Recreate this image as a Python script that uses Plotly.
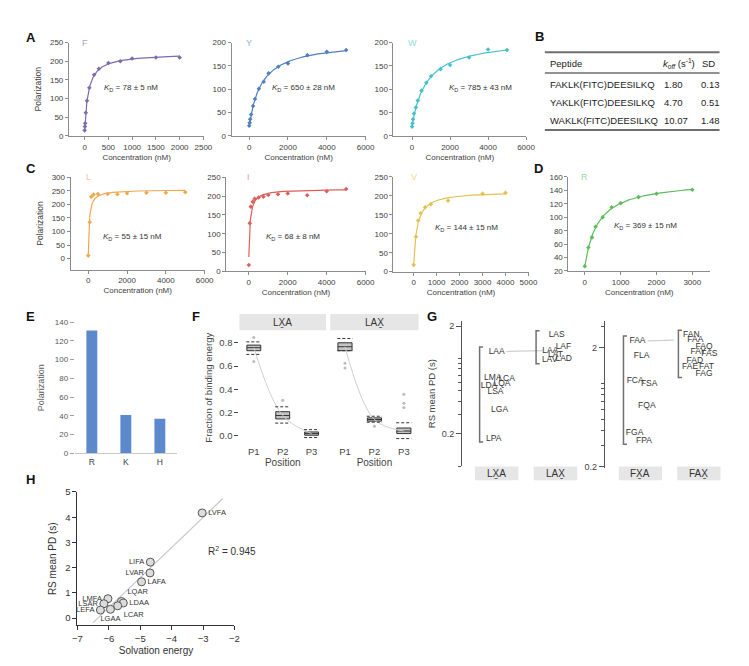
import numpy as np
import plotly.graph_objects as go

W, H = 749, 666
FONT = "Liberation Sans, Arial, sans-serif"

# ---------------- data ----------------
# Panels A, C, D: concentration (nM) vs polarization
F_conc = [0, 6.25, 12.5, 25, 50, 100, 200, 300, 500, 750, 1000, 1500, 2000]
F_pol = [15, 25, 34, 62, 94, 129, 164, 180, 195, 200, 207, 210, 210]
Y_conc = [0, 25, 50, 100, 200, 300, 500, 750, 1000, 1500, 2000, 3000, 4000, 5000]
Y_pol = [22, 28, 36, 46, 64, 79, 101, 116, 134, 148, 155, 173, 180, 184]
W_conc = [0, 25, 50, 100, 200, 300, 500, 750, 1000, 1500, 2000, 3000, 4000, 5000]
W_pol = [20, 27, 36, 48, 61, 76, 97, 114, 128, 143, 152, 168, 185, 184]
L_conc = [0, 75, 150, 275, 500, 1000, 1500, 2000, 3000, 4000, 5000]
L_pol = [11, 134, 228, 236, 238, 238, 237, 241, 243, 243, 245]
I_conc = [0, 50, 100, 200, 300, 500, 750, 1000, 1500, 2000, 3000, 4000, 5000]
I_pol = [17, 128, 172, 185, 193, 196, 198, 203, 205, 207, 202, 213, 219]
V_conc = [0, 100, 200, 300, 500, 750, 1500, 3000, 4000]
V_pol = [18, 92, 135, 154, 170, 178, 187, 206, 208]
R_conc = [0, 100, 200, 300, 500, 750, 1000, 1500, 2000, 3000]
R_pol = [27, 55, 70, 86, 100, 115, 121, 130, 135, 141]
kd_vals = {"F": 78, "Y": 650, "W": 785, "L": 55, "I": 68, "V": 144, "R": 369}
kd_err = {"F": 5, "Y": 28, "W": 43, "L": 15, "I": 8, "V": 15, "R": 15}

# Panel B table
B_peptides = ["FAKLK(FITC)DEESILKQ", "YAKLK(FITC)DEESILKQ", "WAKLK(FITC)DEESILKQ"]
B_koff = ["1.80", "4.70", "10.07"]
B_sd = ["0.13", "0.51", "1.48"]

# Panel E
E_res = ["R", "K", "H"]
E_pol = [131, 41, 37]

# Panel F (box statistics of fraction of binding energy)
F_positions = ["P1", "P2", "P3"]
LXA_q1 = [0.732, 0.146, 0.006]
LXA_med = [0.758, 0.175, 0.020]
LXA_q3 = [0.780, 0.208, 0.034]
LXA_lo = [0.700, 0.110, -0.014]
LXA_hi = [0.808, 0.250, 0.054]
LXA_out_pos = [1, 1, 2]
LXA_out = [0.845, 0.640, 0.307]
LAX_q1 = [0.732, 0.127, 0.020]
LAX_med = [0.766, 0.141, 0.042]
LAX_q3 = [0.800, 0.155, 0.068]
LAX_lo = [0.732, 0.118, -0.023]
LAX_hi = [0.837, 0.169, 0.113]
LAX_out_pos = [1, 1, 2, 3, 3, 3]
LAX_out = [0.625, 0.583, 0.082, 0.358, 0.280, 0.245]

# Panel G (RS mean PD, s)
LXA_pep = ["LAA", "LMA", "LCA", "LQA", "LDA", "LSA", "LGA", "LPA"]
LXA_pd = [1.16, 0.66, 0.64, 0.58, 0.55, 0.49, 0.33, 0.18]
LAX_pep = ["LAS", "LAF", "LAA", "LAT", "LAD", "LAV"]
LAX_pd = [1.64, 1.29, 1.18, 1.08, 1.00, 0.96]
FXA_pep = ["FAA", "FLA", "FCA", "FSA", "FQA", "FGA", "FPA"]
FXA_pd = [2.27, 1.71, 1.04, 0.98, 0.65, 0.38, 0.33]
FAX_pep = ["FAN", "FAA", "FAQ", "FAY", "FAS", "FAD", "FAE", "FAT", "FAG"]
FAX_pd = [2.53, 2.30, 2.03, 1.84, 1.78, 1.54, 1.36, 1.38, 1.20]

# Panel H
H_pep = ["LVFA", "LIFA", "LVAR", "LAFA", "LMFA", "LQAR", "LDAA", "LSAR", "LCAR", "LEFA", "LGAA"]
H_solv = [-3.03, -4.68, -4.69, -4.96, -6.03, -5.60, -5.54, -6.16, -5.72, -6.27, -5.95]
H_pd = [4.17, 2.22, 1.79, 1.44, 0.77, 0.66, 0.60, 0.57, 0.49, 0.32, 0.35]
H_r2 = 0.945

# ---------------- layout helpers ----------------
def dxp(a, b):
    return [a / W, b / W]

def dyp(top, bot):
    return [1 - bot / H, 1 - top / H]

def py(v):
    return 1 - v / H

def xr(k):
    return "x" if k == 1 else f"x{k}"

def yr(k):
    return "y" if k == 1 else f"y{k}"

def xa(k):
    return "xaxis" if k == 1 else f"xaxis{k}"

def ya(k):
    return "yaxis" if k == 1 else f"yaxis{k}"

fig = go.Figure()
lay = dict(width=W, height=H, margin=dict(l=0, r=0, t=0, b=0), paper_bgcolor="white",
           plot_bgcolor="white", showlegend=False,
           font=dict(family=FONT, size=8, color="#404040"))
ann = []
shp = []

# ---------------- Panels A, C, D ----------------
AX = "#8c8c8c"
binding = [
    ("F", F_conc, F_pol), ("Y", Y_conc, Y_pol), ("W", W_conc, W_pol),
    ("L", L_conc, L_pol), ("I", I_conc, I_pol), ("V", V_conc, V_pol), ("R", R_conc, R_pol),
]
bstyle = {
    "F": dict(k=1, xd=(57, 195), yd=(29, 124), xrg=[-330, 2520], yrg=[0, 250], xdt=500, ydt=50,
              c="#7f6aae", lc="#aaa0d0", kd=(91, 75), yt=True),
    "Y": dict(k=2, xd=(222.7, 359.5), yd=(29, 124), xrg=[-910, 6010], yrg=[0, 200], xdt=2000, ydt=50,
              c="#4f7fc0", lc="#93b3de", kd=(262, 75), yt=False),
    "W": dict(k=3, xd=(387.7, 523), yd=(29, 124), xrg=[-980, 6010], yrg=[0, 200], xdt=2000, ydt=50,
              c="#45c0ca", lc="#8fdce2", kd=(442, 75), yt=False),
    "L": dict(k=4, xd=(58.7, 195.5), yd=(166, 260), xrg=[-910, 6010], yrg=[-41, 300], xdt=2000, ydt=50,
              c="#f0a84e", lc="#f5c990", kd=(90, 227), yt=True),
    "I": dict(k=5, xd=(217.3, 359.5), yd=(166, 261.7), xrg=[-1160, 6010], yrg=[0, 250], xdt=2000, ydt=50,
              c="#de5e58", lc="#ec9c97", kd=(256, 227), yt=False),
    "V": dict(k=6, xd=(387.7, 525.5), yd=(165.7, 262), xrg=[-880, 5010], yrg=[0, 250], xdt=1000, ydt=50,
              c="#e6c04e", lc="#f0d890", kd=(428, 218), yt=False),
    "R": dict(k=7, xd=(566, 710.5), yd=(165.7, 261.3), xrg=[-457, 3500], yrg=[20, 160], xdt=1000, ydt=20,
              c="#5cbc5c", lc="#9ad89a", kd=(610, 216), yt=False),
}
for name, conc, pol in binding:
    s = bstyle[name]
    k = s["k"]
    conc_a = np.array(conc, float)
    pol_a = np.array(pol, float)
    kd = kd_vals[name]
    A = np.column_stack([np.ones(len(conc_a)), conc_a / (kd + conc_a)])
    b0, bmax = np.linalg.lstsq(A, pol_a, rcond=None)[0]
    xs = np.linspace(0, conc_a.max(), 400)
    ys = b0 + bmax * xs / (kd + xs)
    fig.add_trace(go.Scatter(x=xs, y=ys, mode="lines", line=dict(color=s["c"], width=1.2),
                             xaxis=xr(k), yaxis=yr(k), hoverinfo="skip"))
    fig.add_trace(go.Scatter(x=conc, y=pol, mode="markers",
                             marker=dict(symbol="diamond", size=3.5, color=s["c"]),
                             xaxis=xr(k), yaxis=yr(k)))
    lay[xa(k)] = dict(domain=dxp(*s["xd"]), range=s["xrg"], anchor=yr(k), tick0=0, dtick=s["xdt"],
                      showline=True, linecolor=AX, linewidth=1, ticks="outside", ticklen=3,
                      tickcolor=AX, showgrid=False, zeroline=False, tickfont=dict(size=8),
                      title=dict(text="Concentration (nM)", font=dict(size=8), standoff=3))
    ydict = dict(domain=dyp(*s["yd"]), range=s["yrg"], anchor=xr(k), tick0=0, dtick=s["ydt"],
                 showline=True, linecolor=AX, linewidth=1, ticks="outside", ticklen=3,
                 tickcolor=AX, showgrid=False, zeroline=False, tickfont=dict(size=8))
    if s["yt"]:
        ydict["title"] = dict(text="Polarization", font=dict(size=8.5), standoff=6)
    lay[ya(k)] = ydict
    ann.append(dict(x=0, y=s["yrg"][1], xref=xr(k), yref=yr(k), text=name, showarrow=False,
                    font=dict(size=9, color=s["lc"]), xanchor="center", yanchor="middle"))
    ann.append(dict(x=s["kd"][0] / W, y=py(s["kd"][1]), xref="paper", yref="paper",
                    text=f"<i>K</i><sub>D</sub> = {kd} ± {kd_err[name]} nM", showarrow=False,
                    font=dict(size=8, color="#333"), xanchor="left", yanchor="middle"))

# ---------------- Panel B (table) ----------------
for yy, wdt in [(39, 2), (60, 1.6), (118, 2)]:
    shp.append(dict(type="line", xref="paper", yref="paper", x0=542 / W, x1=720 / W,
                    y0=py(yy), y1=py(yy), line=dict(color="#6e6e6e", width=wdt)))
hdr = [(545, "Peptide"), (660, "<i>k</i><sub><i>off</i></sub> (s<sup>-1</sup>)"), (700, "SD")]
for x0, t in hdr:
    ann.append(dict(x=x0 / W, y=py(50), xref="paper", yref="paper", text=t, showarrow=False,
                    xanchor="left", yanchor="middle", font=dict(size=9.5, color="#222")))
for i, (p, kf, sd) in enumerate(zip(B_peptides, B_koff, B_sd)):
    yy = 72 + i * 18
    for x0, t in [(545, p), (661, kf), (699, sd)]:
        ann.append(dict(x=x0 / W, y=py(yy), xref="paper", yref="paper", text=t, showarrow=False,
                        xanchor="left", yanchor="middle", font=dict(size=9.5, color="#222")))

# ---------------- Panel E ----------------
k = 8
fig.add_trace(go.Bar(x=E_res, y=E_pol, marker=dict(color="#5b89cc", line=dict(width=0)),
                     width=0.32, xaxis=xr(k), yaxis=yr(k)))
lay[xa(k)] = dict(domain=dxp(63, 167), anchor=yr(k), showline=True, linecolor="#c8c8c8",
                  ticks="", showgrid=False, tickfont=dict(size=8.5, color="#404040"))
lay[ya(k)] = dict(domain=dyp(313.3, 446.7), range=[0, 140], dtick=20, anchor=xr(k),
                  showline=False, ticks="outside", ticklen=4, tickcolor="#a0a0a0", showgrid=False,
                  zeroline=False, tickfont=dict(size=8, color="#595959"),
                  title=dict(text="Polarization", font=dict(size=9, color="#595959"), standoff=8))

# ---------------- Panel F ----------------
facets = [
    (9, "LX\u0331A", (230.7, 319), LXA_q1, LXA_med, LXA_q3, LXA_lo, LXA_hi, LXA_out_pos, LXA_out),
    (10, "LAX\u0331", (323.3, 413.3), LAX_q1, LAX_med, LAX_q3, LAX_lo, LAX_hi, LAX_out_pos, LAX_out),
]
pos_idx = [1, 2, 3]
for k, lab, xd, q1, med, q3, lo, hi, opos, oval in facets:
    fig.add_trace(go.Scatter(x=pos_idx, y=med, mode="lines", line=dict(color="#d0d0d0", width=1, shape="spline"),
                             xaxis=xr(k), yaxis="y9", hoverinfo="skip"))
    dx, dy = [], []
    for i, a, b in zip(pos_idx, lo, hi):
        dx += [i - 0.26, i + 0.26, None, i - 0.26, i + 0.26, None]
        dy += [a, a, None, b, b, None]
    fig.add_trace(go.Scatter(x=dx, y=dy, mode="lines", line=dict(color="#333", width=1, dash="3px,2px"),
                             xaxis=xr(k), yaxis="y9", hoverinfo="skip"))
    fig.add_trace(go.Box(x=pos_idx, q1=q1, median=med, q3=q3, lowerfence=q1, upperfence=q3,
                         fillcolor="#c4c4c4", line=dict(color="#333", width=1), width=0.48,
                         boxpoints=False, whiskerwidth=0, xaxis=xr(k), yaxis="y9"))
    fig.add_trace(go.Scatter(x=opos, y=oval, mode="markers", marker=dict(color="#bcbcbc", size=3),
                             xaxis=xr(k), yaxis="y9"))
    lay[xa(k)] = dict(domain=dxp(*xd), range=[0.5, 3.5], anchor="y9", tickvals=pos_idx,
                      ticktext=F_positions, showline=False, ticks="", showgrid=False, zeroline=False,
                      tickfont=dict(size=9.5, color="#444"),
                      title=dict(text="Position", font=dict(size=10, color="#444"), standoff=2))
    shp.append(dict(type="rect", xref=f"x{k} domain", yref="paper", x0=0, x1=1, y0=py(321.5), y1=py(305),
                    fillcolor="#e6e6e6", line=dict(width=0), layer="below"))
    ann.append(dict(x=0.5, y=py(313.3), xref=f"x{k} domain", yref="paper", text=lab, showarrow=False,
                    font=dict(size=10, color="#333"), xanchor="center", yanchor="middle"))
lay["yaxis9"] = dict(domain=dyp(322, 438), range=[-0.076, 0.904], anchor="x9", tickvals=[0, 0.2, 0.4, 0.6, 0.8],
                     ticktext=["0.0", "0.2", "0.4", "0.6", "0.8"], showline=False, ticks="outside", ticklen=4,
                     tickcolor="#444", showgrid=False, zeroline=False, tickfont=dict(size=9.5, color="#444"),
                     title=dict(text="Fraction of binding energy", font=dict(size=9.5, color="#444"), standoff=4))

# ---------------- Panel G ----------------
LXA_jit = [0.0, -0.065, 0.17, 0.09, -0.13, -0.02, 0.05, -0.05]
LAX_jit = [0.02, 0.135, -0.09, 0.0, 0.14, -0.10]
FXA_jit = [-0.05, 0.02, -0.09, 0.15, 0.11, -0.10, 0.06]
FAX_jit = [-0.13, -0.06, 0.09, -0.01, 0.18, -0.07, -0.15, 0.13, 0.09]
gsets = [
    (11, [("LX\u0331A", LXA_pep, LXA_pd, LXA_jit, -0.29), ("LAX\u0331", LAX_pep, LAX_pd, LAX_jit, -0.33)],
     (457.7, 590), [0.413, 2.62], (312, 460), [-1.003, 0.349], (1.16, 1.78)),
    (12, [("FX\u0331A", FXA_pep, FXA_pd, FXA_jit, -0.29), ("FAX\u0331", FAX_pep, FAX_pd, FAX_jit, -0.35)],
     (603.3, 740), [0.394, 2.69], (312, 461.5), [-0.711, 0.524], (1.12, 1.57)),
]
for k, groups, xd, xrg, yd, yrg, link in gsets:
    # link line between shared parent peptide
    fig.add_trace(go.Scatter(x=list(link), y=[groups[0][2][0], groups[1][2][groups[1][1].index(groups[0][1][0])]],
                             mode="lines", line=dict(color="#d0d0d0", width=1.2),
                             xaxis=xr(k), yaxis=yr(k), hoverinfo="skip"))
    for ci, (lab, peps, pds, jit, boff) in enumerate(groups, start=1):
        top, bot = max(pds) * 1.1, min(pds) * 0.93
        bx = ci + boff
        fig.add_trace(go.Scatter(x=[bx + 0.06, bx, bx, bx + 0.06], y=[top, top, bot, bot], mode="lines",
                                 line=dict(color="#707070", width=1.5), xaxis=xr(k), yaxis=yr(k),
                                 hoverinfo="skip"))
        fig.add_trace(go.Scatter(x=[ci + j for j in jit], y=pds, mode="text", text=peps,
                                 textfont=dict(size=8.5, color="#333"), textposition="middle center",
                                 xaxis=xr(k), yaxis=yr(k), cliponaxis=False))
        shp.append(dict(type="rect", xref=xr(k), yref="paper", x0=ci - 0.37, x1=ci + 0.37,
                        y0=py(474), y1=py(460), fillcolor="#e6e6e6", line=dict(width=0)))
        ann.append(dict(x=ci, y=py(467), xref=xr(k), yref="paper", text=lab, showarrow=False,
                        font=dict(size=10, color="#333"), xanchor="center", yanchor="middle"))
    lay[xa(k)] = dict(domain=dxp(*xd), range=xrg, anchor=yr(k), visible=False)
    ydict = dict(domain=dyp(*yd), type="log", range=yrg, anchor=xr(k), tickvals=[0.2, 2],
                 ticktext=["0.2", "2"], showline=True, linecolor="#555", linewidth=1.3,
                 ticks="outside", ticklen=5, tickcolor="#555", showgrid=False, zeroline=False,
                 tickfont=dict(size=9, color="#444"),
                 minor=dict(tickvals=[0.1, 0.3, 0.4, 0.5, 0.6, 0.7, 0.8, 0.9, 1, 3], ticks="outside",
                            ticklen=3, tickcolor="#555", showgrid=False))
    if k == 11:
        ydict["title"] = dict(text="RS mean PD (s)", font=dict(size=9.5, color="#444"), standoff=4)
    lay[ya(k)] = ydict

# ---------------- Panel H ----------------
k = 13
H_textpos = ["middle right", "middle left", "middle left", "middle right", "middle left", "top right",
             "middle right", "middle left", "bottom right", "middle left", "bottom center"]
slope, icpt = np.polyfit(H_solv, H_pd, 1)
lx = np.array([min(H_solv) - 0.23, max(H_solv) + 0.65])
fig.add_trace(go.Scatter(x=lx, y=slope * lx + icpt, mode="lines", line=dict(color="#c8c8c8", width=1.2),
                         xaxis=xr(k), yaxis=yr(k), hoverinfo="skip"))
fig.add_trace(go.Scatter(x=H_solv, y=H_pd, mode="markers+text", text=H_pep, textposition=H_textpos,
                         textfont=dict(size=7.5, color="#333"),
                         marker=dict(symbol="circle", size=8, color="#dcdcdc", line=dict(color="#555", width=1)),
                         xaxis=xr(k), yaxis=yr(k), cliponaxis=False))
lay[xa(k)] = dict(domain=dxp(65.7, 225.7), range=[-7, -2], dtick=1, anchor=yr(k), showline=True,
                  linecolor="#333", ticks="outside", ticklen=4, tickcolor="#333", showgrid=False,
                  zeroline=False, tickfont=dict(size=9.5, color="#333"),
                  title=dict(text="Solvation energy", font=dict(size=10, color="#333"), standoff=4))
lay[ya(k)] = dict(domain=dyp(486, 621.7), range=[-0.29, 5], dtick=1, anchor=xr(k), showline=True,
                  linecolor="#333", ticks="outside", ticklen=4, tickcolor="#333", showgrid=False,
                  zeroline=False, tickfont=dict(size=9.5, color="#333"),
                  title=dict(text="RS mean PD (s)", font=dict(size=10, color="#333"), standoff=6))
ann.append(dict(x=-2.9, y=2.68, xref=xr(k), yref=yr(k), text=f"R<sup>2</sup> = {H_r2}", showarrow=False,
                xanchor="left", yanchor="middle", font=dict(size=10, color="#333")))

# ---------------- panel letters ----------------
for t, x0, y0 in [("A", 18, 24), ("B", 537, 23), ("C", 18, 157), ("D", 536, 157), ("E", 18, 308),
                  ("F", 186, 308), ("G", 427, 308), ("H", 18, 473)]:
    ann.append(dict(x=x0 / W, y=py(y0), xref="paper", yref="paper", text=f"<b>{t}</b>", showarrow=False,
                    xanchor="center", yanchor="middle", font=dict(size=13, color="#111")))

lay["annotations"] = ann
lay["shapes"] = shp
fig.update_layout(**lay)
fig.write_html("out.html")
